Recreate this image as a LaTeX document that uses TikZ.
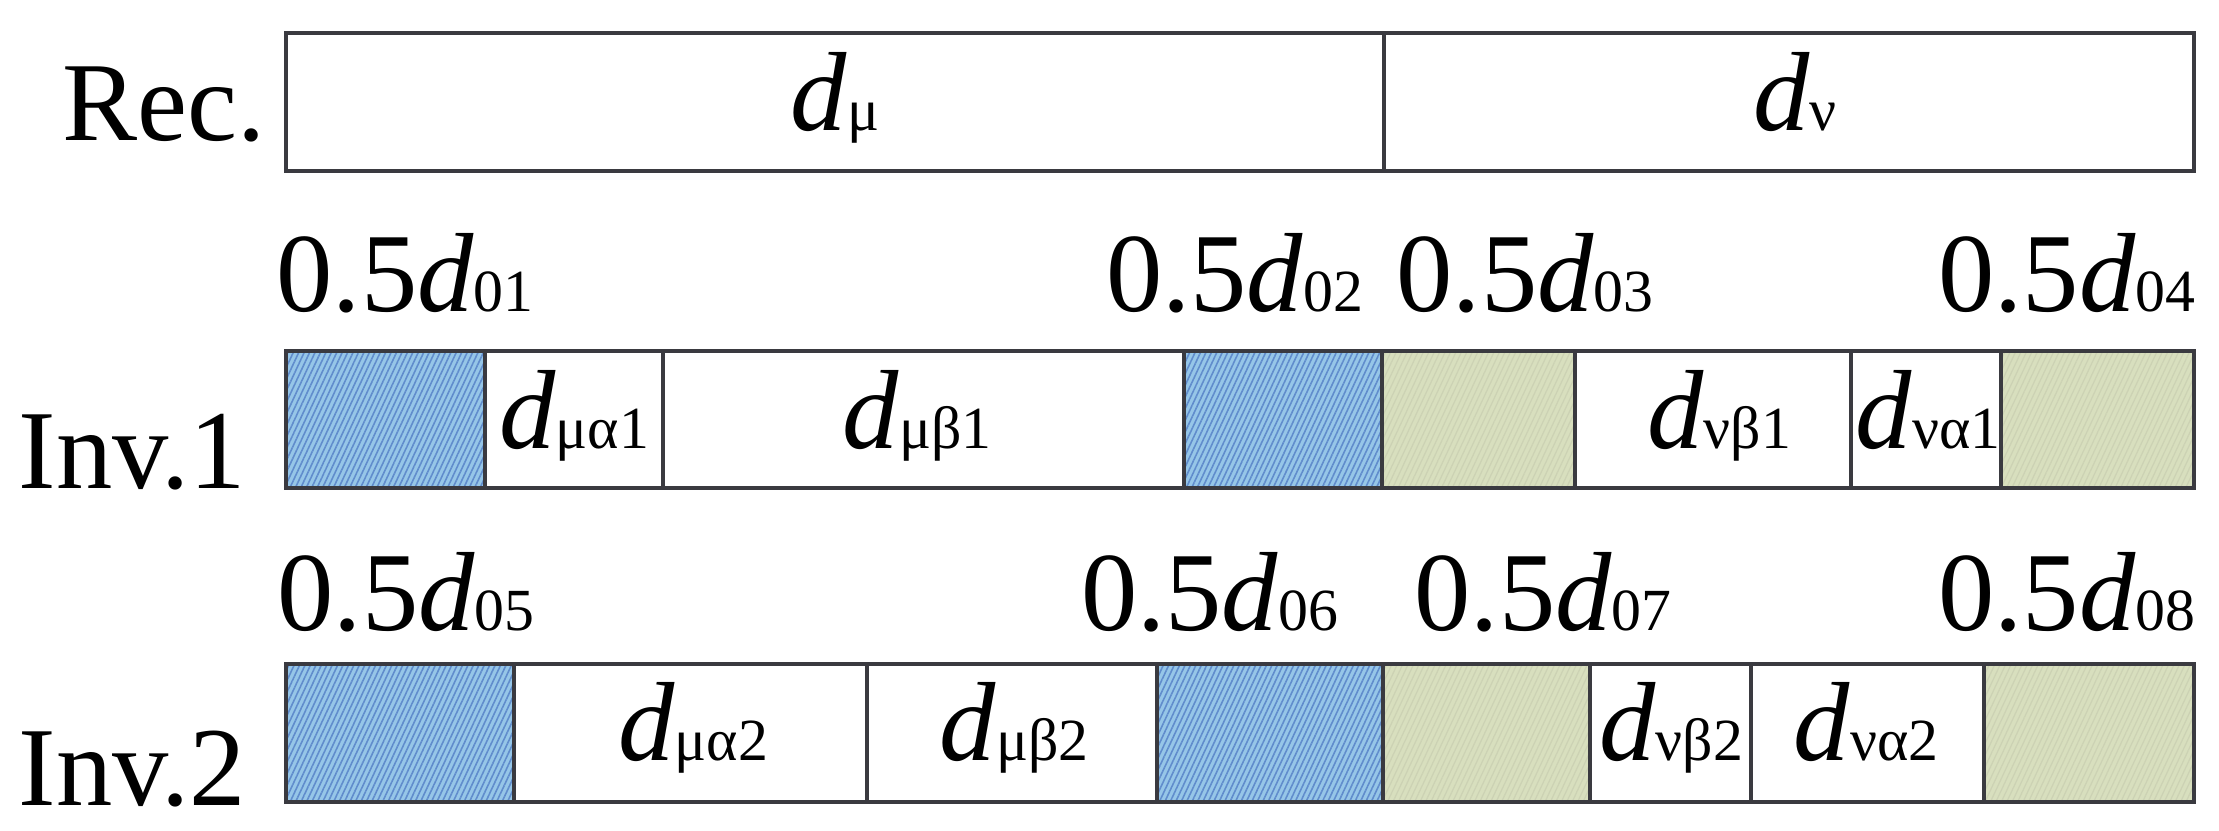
\documentclass[tikz,border=0pt]{standalone}
\usepackage{fontspec}
\setmainfont{Liberation Serif}
\usetikzlibrary{patterns.meta}

\definecolor{barline}{RGB}{58,58,64}
\definecolor{bluebase}{RGB}{150,198,232}
\definecolor{bluehatch}{RGB}{96,140,204}
\definecolor{greenbase}{RGB}{216,223,190}
\definecolor{greenhatch}{RGB}{204,210,180}

% d with a small subscript that sits on the baseline
\newcommand{\dlab}[1]{\textit{d}{\fontsize{17}{18}\selectfont #1}}

\begin{document}
\begin{tikzpicture}[
			x=0.01cm, y=-0.01cm,
			every node/.style = {font=\fontsize{32}{36}\selectfont, inner sep=0pt},
			bar/.style        = {draw=barline, line width=1.2pt},
			divider/.style    = {draw=barline, line width=0.9pt},
			bluecell/.style   = {fill=bluebase,
				postaction={pattern={Lines[angle=65,distance=1.4pt,line width=0.45pt]}, pattern color=bluehatch}},
			greencell/.style  = {fill=greenbase,
				postaction={pattern={Lines[angle=65,distance=1.4pt,line width=0.35pt]}, pattern color=greenhatch}}
			]
			\useasboundingbox (0,0) rectangle (2219,830);
			
			%--- Rec. row ---
			\draw[bar] (286,33) rectangle (2194,171);
			\draw[divider] (1384,33) -- (1384,171);
			
			\node (rec) [anchor=base west] at (62,140)  {Rec.};
			\node (dmu) [anchor=base]      at (835,130) {\dlab{μ}};
			\node (dnu) [anchor=base]      at (1795,130) {\dlab{ν}};
			
			%--- Inv.1 row ---
			\fill[bluecell]  (286,351)  rectangle (485,488);
			\fill[bluecell]  (1184,351) rectangle (1382,488);
			\fill[greencell] (1382,351) rectangle (1575,488);
			\fill[greencell] (2001,351) rectangle (2194,488);
			\foreach \x in {485,663,1184,1382,1575,1851,2001}
				\draw[divider] (\x,351) -- (\x,488);
			\draw[bar] (286,351) rectangle (2194,488);
			
			\node (inv1) [anchor=base west] at (18,488)   {Inv.1};
			\node (l01)  [anchor=base west] at (276,311)  {0.5\dlab{01}};
			\node (l02)  [anchor=base east] at (1364,311) {0.5\dlab{02}};
			\node (l03)  [anchor=base west] at (1396,311) {0.5\dlab{03}};
			\node (l04)  [anchor=base east] at (2196,311) {0.5\dlab{04}};
			
			\node (mua1) [anchor=base] at (574,448)  {\dlab{μα1}};
			\node (mub1) [anchor=base] at (917,448)  {\dlab{μβ1}};
			\node (nub1) [anchor=base] at (1719,448) {\dlab{νβ1}};
			\node (nua1) [anchor=base] at (1928,448) {\dlab{να1}};
			
			%--- Inv.2 row ---
			\fill[bluecell]  (286,664)  rectangle (514,802);
			\fill[bluecell]  (1157,664) rectangle (1383,802);
			\fill[greencell] (1383,664) rectangle (1590,802);
			\fill[greencell] (1984,664) rectangle (2194,802);
			\foreach \x in {514,867,1157,1383,1590,1751,1984}
				\draw[divider] (\x,664) -- (\x,802);
			\draw[bar] (286,664) rectangle (2194,802);
			
			\node (inv2) [anchor=base west] at (18,805)   {Inv.2};
			\node (l05)  [anchor=base west] at (277,630)  {0.5\dlab{05}};
			\node (l06)  [anchor=base east] at (1339,630) {0.5\dlab{06}};
			\node (l07)  [anchor=base west] at (1414,630) {0.5\dlab{07}};
			\node (l08)  [anchor=base east] at (2196,630) {0.5\dlab{08}};
			
			\node (mua2) [anchor=base] at (693,760)  {\dlab{μα2}};
			\node (mub2) [anchor=base] at (1014,760) {\dlab{μβ2}};
			\node (nub2) [anchor=base] at (1671,760) {\dlab{νβ2}};
			\node (nua2) [anchor=base] at (1866,760) {\dlab{να2}};
		\end{tikzpicture}
\end{document}
